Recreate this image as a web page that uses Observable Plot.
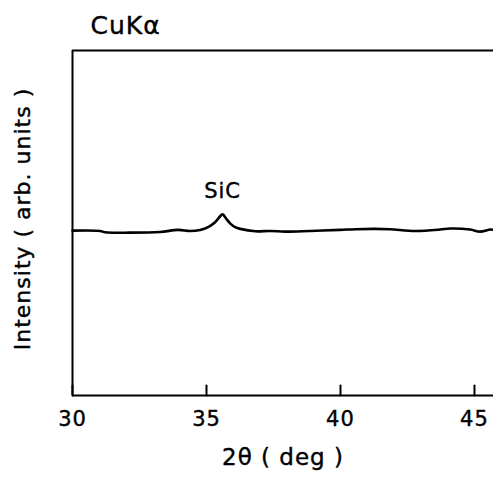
<!DOCTYPE html>
<html>
<head>
<meta charset="utf-8">
<script src="https://cdn.jsdelivr.net/npm/d3@7"></script>
<script src="https://cdn.jsdelivr.net/npm/@observablehq/plot@0.6"></script>
<style>
  html, body { margin: 0; padding: 0; background: #fff; }
  svg { display: block; }
  svg text { letter-spacing: 1px; }
</style>
</head>
<body>
<div id="chart"></div>
<script>
// XRD scan, 2θ in degrees
const twoTheta = [30.0, 31.03, 31.22, 32.15, 33.27, 33.94, 34.39, 34.76, 35.06, 35.32, 35.47, 35.6, 35.73, 35.88, 36.07, 36.26, 36.82, 37.38, 37.94, 38.87, 39.99, 40.55, 41.29, 41.85, 42.79, 43.72, 44.09, 44.84, 45.21, 45.59, 45.71];
// Intensity, arbitrary units
const intensity = [47.8, 47.7, 47.3, 47.2, 47.4, 48.0, 47.7, 48.0, 48.8, 50.2, 51.6, 52.5, 51.3, 49.9, 48.8, 48.3, 47.6, 47.7, 47.5, 47.7, 48.0, 48.2, 48.3, 48.2, 47.7, 48.1, 48.4, 48.1, 47.5, 48.1, 48.0];

const xTicks = [30, 35, 40, 45];
const xDomain = [30, 45.71];
const yDomain = [0, 100];
const peak = {label: "SiC", x: 35.6, y: 52.5};
const xLabel = "2θ ( deg )";
const yLabel = "Intensity ( arb. units )";
const title = "CuKα";

const scan = twoTheta.map((t, i) => ({t, v: intensity[i]}));
const font = "DejaVu Sans, sans-serif";
const tickShape = {draw(ctx, l) { ctx.moveTo(0, 0); ctx.lineTo(0, -l); }};
// slightly heavier lettering
const ink = {fill: "#000", stroke: "#000", strokeWidth: 0.4};

const chart = Plot.plot({
  width: 493,
  height: 479,
  marginLeft: 72,
  marginRight: 0,
  marginTop: 50,
  marginBottom: 84,
  style: {fontFamily: font, color: "#000", background: "#fff"},
  x: {domain: xDomain},
  y: {domain: yDomain},
  marks: [
    Plot.axisX([], {label: null}),
    Plot.axisY([], {label: null}),
    Plot.text(xTicks, {x: d => d, frameAnchor: "bottom", dy: 24, lineAnchor: "middle", fontSize: 21, ...ink}),
    Plot.ruleY(yDomain, {stroke: "#000", strokeWidth: 2}),
    Plot.ruleX([xDomain[0]], {stroke: "#000", strokeWidth: 2}),
    Plot.vector(xTicks, {x: d => d, y: yDomain[0], length: 10, anchor: "start", shape: tickShape, stroke: "#000", strokeWidth: 2}),
    Plot.line(scan, {x: "t", y: "v", stroke: "#000", strokeWidth: 2.6, curve: "catmull-rom"}),
    Plot.text([peak], {x: "x", y: "y", text: "label", dy: -16, lineAnchor: "bottom", fontSize: 21, ...ink}),
    Plot.text([xLabel], {frameAnchor: "bottom", dy: 62, lineAnchor: "middle", fontSize: 23, ...ink}),
    Plot.text([yLabel], {frameAnchor: "left", dx: -50, dy: -4, rotate: -90, textAnchor: "middle", lineAnchor: "middle", fontSize: 22, ...ink}),
    Plot.text([title], {frameAnchor: "top-left", dx: 18, dy: -25, textAnchor: "start", lineAnchor: "middle", fontSize: 25, ...ink})
  ]
});
document.getElementById("chart").appendChild(chart);
</script>
</body>
</html>
